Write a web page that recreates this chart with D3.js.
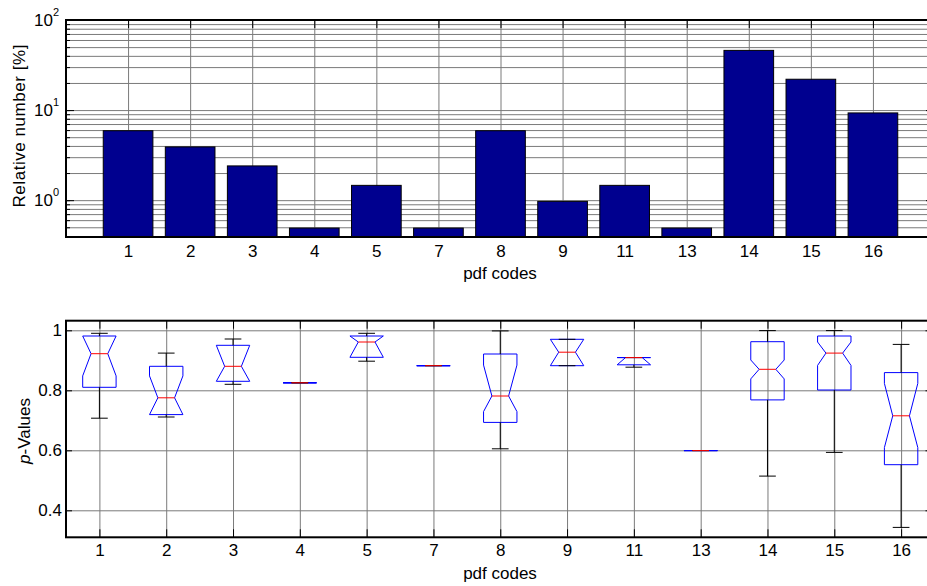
<!DOCTYPE html>
<html lang="en">
<head>
<meta charset="UTF-8">
<title>Relative number and p-values per pdf code</title>
<script src="https://cdn.jsdelivr.net/npm/d3@7"></script>
<style>
    body { margin: 0; background: #fff; }
    * { font-family: 'Liberation Sans', Arial, sans-serif; }
    text { font-size: 17px; fill: #000; }
    .grid line { stroke: #7a7a7a; stroke-width: 1; }
    .grid path, .tk path, .lbl path { display: none; }
    .tk line { stroke: #000; stroke-width: 1; }
</style>
</head>
<body>
<script>
    // pdf codes on the x axis of both panels
    const codes = ["1", "2", "3", "4", "5", "7", "8", "9", "11", "13", "14", "15", "16"];

    // top panel: relative number [%] (log scale)
    const relNumber = [5.9, 3.9, 2.4, 0.49, 1.46, 0.49, 5.9, 0.97, 1.46, 0.49, 46, 22, 9.3];

    // bottom panel: notched boxplot statistics of the p-values
    const whiskLo = [0.707, 0.711, 0.820, 0.825, 0.897, 0.882, 0.605, 0.882, 0.877, 0.599, 0.514, 0.593, 0.343];
    const q1      = [0.810, 0.719, 0.830, 0.825, 0.910, 0.882, 0.693, 0.882, 0.885, 0.599, 0.768, 0.801, 0.552];
    const notchLo = [0.848, 0.719, 0.830, 0.825, 0.910, 0.882, 0.729, 0.882, 0.885, 0.599, 0.838, 0.883, 0.609];
    const median  = [0.922, 0.775, 0.880, 0.825, 0.961, 0.882, 0.781, 0.927, 0.909, 0.599, 0.870, 0.924, 0.715];
    const notchHi = [0.981, 0.848, 0.950, 0.825, 0.981, 0.882, 0.884, 0.970, 0.909, 0.599, 0.901, 0.961, 0.823];
    const q3      = [0.981, 0.880, 0.950, 0.825, 0.981, 0.882, 0.921, 0.970, 0.909, 0.599, 0.962, 0.981, 0.859];
    const whiskHi = [0.990, 0.924, 0.971, 0.825, 0.990, 0.882, 0.998, 0.970, 0.909, 0.599, 0.999, 0.999, 0.953];

    const pTicks = [0.4, 0.6, 0.8, 1];
    const decades = [1, 10, 100];

    const pos = codes.map((c, i) => i + 1);

    const svg = d3.select("body").append("svg").attr("width", 927).attr("height", 586);

    // ================= top panel =================
    const L = 66, R = 935, T1 = 20, B1 = 237;
    const x1 = d3.scaleLinear().domain([0, 14]).range([L, R]);
    const y1 = d3.scaleLog().domain([0.39, 100]).range([B1, T1]);
    const logTicks = y1.ticks();

    const g1 = svg.append("g");

    g1.append("g").attr("class", "grid")
        .attr("transform", `translate(${L},0)`)
        .call(d3.axisLeft(y1).tickValues(logTicks).tickSize(-(R - L)).tickFormat(""));
    g1.append("g").attr("class", "grid")
        .attr("transform", `translate(0,${B1})`)
        .call(d3.axisBottom(x1).tickValues(pos).tickSize(-(B1 - T1)).tickFormat(""));

    // ticks pointing inward
    g1.append("g").attr("class", "tk").attr("transform", `translate(0,${T1})`)
        .call(d3.axisTop(x1).tickValues(pos).tickSize(-8).tickFormat(""));
    g1.append("g").attr("class", "tk").attr("transform", `translate(0,${B1})`)
        .call(d3.axisBottom(x1).tickValues(pos).tickSize(-8).tickFormat(""));
    g1.append("g").attr("class", "tk").attr("transform", `translate(${L},0)`)
        .call(d3.axisLeft(y1).tickValues(logTicks).tickSize(-4).tickFormat(""));
    g1.append("g").attr("class", "tk").attr("transform", `translate(${L},0)`)
        .call(d3.axisLeft(y1).tickValues(decades).tickSize(-8).tickFormat(""));
    g1.append("g").attr("class", "tk").attr("transform", `translate(${R},0)`)
        .call(d3.axisRight(y1).tickValues(logTicks).tickSize(-4).tickFormat(""));
    g1.append("g").attr("class", "tk").attr("transform", `translate(${R},0)`)
        .call(d3.axisRight(y1).tickValues(decades).tickSize(-9).tickFormat(""));

    const bw = x1(0.8) - x1(0);
    g1.selectAll("rect.bar")
        .data(relNumber)
        .join("rect")
        .attr("class", "bar")
        .attr("x", (d, i) => x1(pos[i]) - bw / 2)
        .attr("width", bw)
        .attr("y", d => y1(d))
        .attr("height", d => B1 - y1(d))
        .attr("fill", "#00008f")
        .attr("stroke", "#000")
        .attr("stroke-width", 1);

    g1.append("g").attr("class", "lbl")
        .attr("transform", `translate(0,${B1})`)
        .call(d3.axisBottom(x1).tickValues(pos).tickSize(0).tickPadding(7.6).tickFormat(i => codes[i - 1]));

    // 10^k labels
    const dl = g1.selectAll("text.dec")
        .data(decades)
        .join("text")
        .attr("class", "dec")
        .attr("x", 59)
        .attr("y", d => y1(d) + 6)
        .attr("text-anchor", "end");
    dl.append("tspan").text("10");
    dl.append("tspan").attr("dy", -10).style("font-size", "11px").text(d => Math.round(Math.log10(d)));

    g1.append("rect")
        .attr("x", L).attr("y", T1)
        .attr("width", R - L).attr("height", B1 - T1)
        .attr("fill", "none").attr("stroke", "#000").attr("stroke-width", 2);

    g1.append("text")
        .attr("x", 500).attr("y", 279)
        .attr("text-anchor", "middle")
        .text("pdf codes");

    g1.append("text")
        .attr("transform", "translate(25,126) rotate(-90)")
        .attr("text-anchor", "middle")
        .attr("textLength", 163)
        .attr("lengthAdjust", "spacing")
        .text("Relative number [%]");

    // ================= bottom panel =================
    const R2 = 934.5, T2 = 320.7, B2 = 537.3;
    const x2 = d3.scaleLinear().domain([0.5, 13.5]).range([L, R2]);
    const y2 = d3.scaleLinear().domain([0.31, 1.032]).range([B2, T2]);

    const g2 = svg.append("g");

    g2.append("g").attr("class", "grid")
        .attr("transform", `translate(${L},0)`)
        .call(d3.axisLeft(y2).tickValues(pTicks).tickSize(-(R2 - L)).tickFormat(""));
    g2.append("g").attr("class", "grid")
        .attr("transform", `translate(0,${B2})`)
        .call(d3.axisBottom(x2).tickValues(pos).tickSize(-(B2 - T2)).tickFormat(""));

    g2.append("g").attr("class", "tk").attr("transform", `translate(0,${T2})`)
        .call(d3.axisTop(x2).tickValues(pos).tickSize(-8).tickFormat(""));
    g2.append("g").attr("class", "tk").attr("transform", `translate(0,${B2})`)
        .call(d3.axisBottom(x2).tickValues(pos).tickSize(-8).tickFormat(""));
    g2.append("g").attr("class", "tk").attr("transform", `translate(${L},0)`)
        .call(d3.axisLeft(y2).tickValues(pTicks).tickSize(-6).tickFormat(""));
    g2.append("g").attr("class", "tk").attr("transform", `translate(${R2},0)`)
        .call(d3.axisRight(y2).tickValues(pTicks).tickSize(-9).tickFormat(""));

    const hw = x2(0.25) - x2(0);     // half box width
    const nw = x2(0.125) - x2(0);    // half notch / cap width

    const boxes = g2.selectAll("g.box")
        .data(codes.map((c, i) => i))
        .join("g")
        .attr("class", "box");

    boxes.append("path")
        .attr("fill", "none")
        .attr("stroke", "#0000ff")
        .attr("stroke-width", 1)
        .attr("d", i => {
            const cx = x2(pos[i]);
            const p = d3.path();
            p.moveTo(cx - hw, y2(q1[i]));
            p.lineTo(cx - hw, y2(notchLo[i]));
            p.lineTo(cx - nw, y2(median[i]));
            p.lineTo(cx - hw, y2(notchHi[i]));
            p.lineTo(cx - hw, y2(q3[i]));
            p.lineTo(cx + hw, y2(q3[i]));
            p.lineTo(cx + hw, y2(notchHi[i]));
            p.lineTo(cx + nw, y2(median[i]));
            p.lineTo(cx + hw, y2(notchLo[i]));
            p.lineTo(cx + hw, y2(q1[i]));
            p.closePath();
            return p.toString();
        });

    // whiskers
    boxes.append("line")
        .attr("x1", i => x2(pos[i])).attr("x2", i => x2(pos[i]))
        .attr("y1", i => y2(q3[i])).attr("y2", i => y2(whiskHi[i]))
        .attr("stroke", "#000");
    boxes.append("line")
        .attr("x1", i => x2(pos[i])).attr("x2", i => x2(pos[i]))
        .attr("y1", i => y2(q1[i])).attr("y2", i => y2(whiskLo[i]))
        .attr("stroke", "#000");
    boxes.append("line")
        .attr("x1", i => x2(pos[i]) - nw).attr("x2", i => x2(pos[i]) + nw)
        .attr("y1", i => y2(whiskHi[i])).attr("y2", i => y2(whiskHi[i]))
        .attr("stroke", "#000");
    boxes.append("line")
        .attr("x1", i => x2(pos[i]) - nw).attr("x2", i => x2(pos[i]) + nw)
        .attr("y1", i => y2(whiskLo[i])).attr("y2", i => y2(whiskLo[i]))
        .attr("stroke", "#000");

    // medians
    boxes.append("line")
        .attr("x1", i => x2(pos[i]) - nw).attr("x2", i => x2(pos[i]) + nw)
        .attr("y1", i => y2(median[i])).attr("y2", i => y2(median[i]))
        .attr("stroke", "#ff0000");

    g2.append("g").attr("class", "lbl")
        .attr("transform", `translate(0,${B2})`)
        .call(d3.axisBottom(x2).tickValues(pos).tickSize(0).tickPadding(6.6).tickFormat(i => codes[i - 1]));
    g2.append("g").attr("class", "lbl")
        .attr("transform", `translate(${L},0)`)
        .call(d3.axisLeft(y2).tickValues(pTicks).tickSize(0).tickPadding(4).tickFormat(d3.format("")));

    g2.append("rect")
        .attr("x", L).attr("y", T2)
        .attr("width", R2 - L).attr("height", B2 - T2)
        .attr("fill", "none").attr("stroke", "#000").attr("stroke-width", 2);

    g2.append("text")
        .attr("x", 500).attr("y", 579)
        .attr("text-anchor", "middle")
        .text("pdf codes");

    const pl = g2.append("text")
        .attr("transform", "translate(30,431) rotate(-90)")
        .attr("text-anchor", "middle");
    pl.append("tspan").style("font-style", "italic").text("p");
    pl.append("tspan").text("-Values");

    svg.selectAll(".lbl text").style("font-size", "17px").attr("fill", "#000");
</script>
</body>
</html>
